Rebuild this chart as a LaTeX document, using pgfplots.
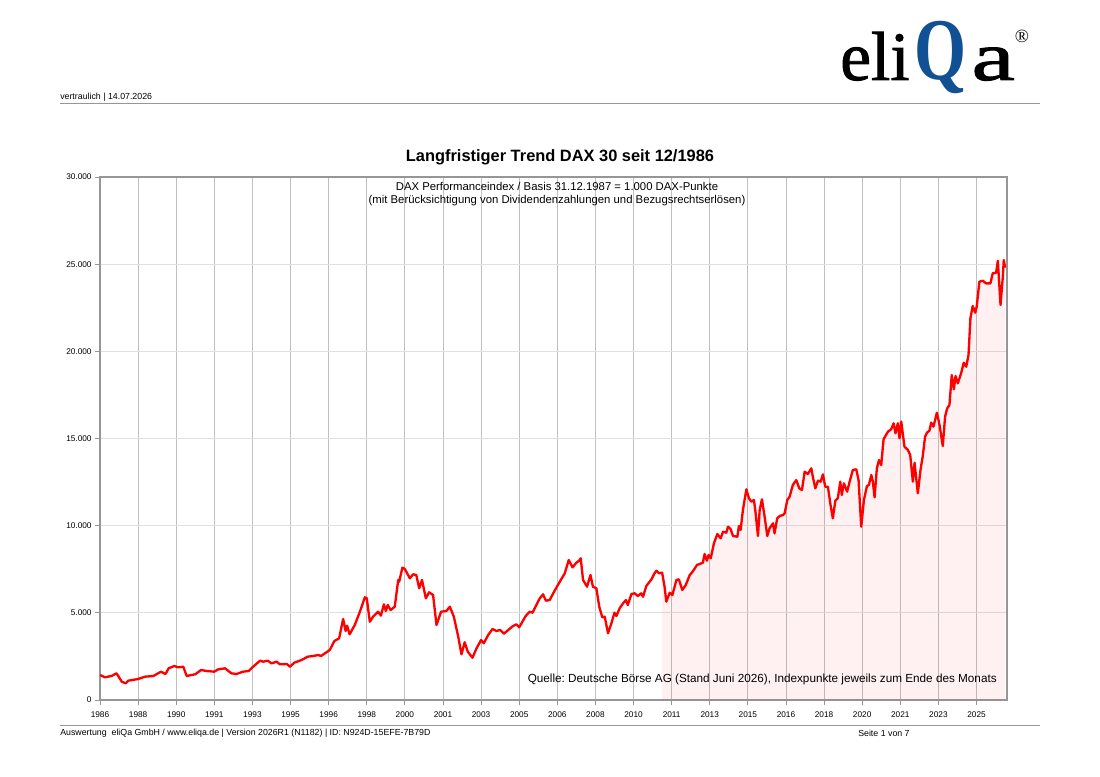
\documentclass[border=0pt]{standalone}
\usepackage{pgfplots}
\pgfplotsset{compat=1.18}
\usepackage{pgfplotstable}
\usepackage{graphicx}
\usepackage{fontspec}
\setmainfont{Liberation Sans}
\newfontfamily\logofont{Liberation Serif}
\newfontfamily\logofontmed[FakeBold=1.3]{Liberation Serif}
\definecolor{eliqablue}{RGB}{18,80,148}
\definecolor{gridv}{RGB}{192,192,192}
\definecolor{gridh}{RGB}{224,224,224}
\definecolor{axisgray}{RGB}{150,150,150}
\frenchspacing

\pgfplotstableread{
m v
0 1434
2.6 1302
6 1377
8.7 1530
11.4 1052
13.5 957
14.9 1109
20 1204
23.6 1338
28 1377
32 1625
34.4 1491
36 1817
39 1950
41 1874
43.7 1912
45.5 1377
48 1434
50 1472
53 1721
56 1663
60 1625
62 1759
65.6 1817
69 1530
71.7 1491
75 1625
78 1663
80 1874
84 2256
85.6 2199
88 2256
90 2103
92.7 2199
94.4 2046
98 2066
99.7 1912
102 2142
105.8 2294
109 2485
112 2524
114.5 2581
116 2524
120.6 2868
123 3384
125.5 3539
127.6 4646
128.9 3958
129.7 4262
131 3768
133.7 4302
136.4 5065
139 5891
140 5834
141.6 4491
143.3 4778
146 5065
147.4 4836
149 5489
150 5105
151 5449
152.5 5162
154.7 5352
156.5 6883
157 6786
158.7 7589
160 7514
162.6 6980
164.3 7209
166 7170
167.5 6407
169 6883
171 5834
172.7 6178
174.8 6023
176.6 4302
179 5065
181.8 5105
183.6 5352
185.7 4778
188 3631
189.7 2621
191.4 3310
193 2770
195.5 2426
197.6 2965
200 3442
201.4 3252
203.7 3728
206 4073
208 3958
210 4015
212 3806
216.5 4225
218.5 4342
220 4170
223.4 4818
225.5 5065
227 5008
230.8 5834
232.5 6063
234 5696
236 5736
238.6 6270
241 6729
243.9 7267
246 8030
248 7610
250 7875
251.4 7990
252.3 8128
253.5 6883
255.6 6499
257.4 7170
258.7 6499
260.5 6407
262 5352
263.6 4744
264.9 4778
266.6 3826
268.4 4400
270 5008
271 4818
272.7 5260
274.5 5547
276 5736
277 5449
278.9 6080
280.6 6120
282.3 5966
284 6120
285 5925
286.7 6539
289.4 6923
291 7267
292 7418
293.4 7267
295 7303
296.3 6499
297.2 5640
299 6155
300.4 6023
302.5 6883
303.8 6923
305.6 6310
307.4 6596
309.5 7170
311 7360
313.3 7744
316.4 7875
317.3 8374
318.5 7990
319.4 8317
320.5 8128
322.2 8988
324 9522
325.7 9275
327 9657
328.7 9600
329.6 9944
331 9791
332.2 9407
334.5 9369
335.3 9980
336.2 9752
337.4 10898
339.2 12085
340.6 11569
341.8 11378
343.2 11472
344 10801
345.3 9407
346.2 10898
347.4 11512
348.8 10514
350.2 9407
351.4 9848
353.2 10134
354 9560
355.4 10419
356.7 10553
358.4 10610
359.3 10707
360.7 11472
361.9 11661
363.6 12332
365.4 12619
367 12142
368.4 12046
369.8 13096
371.5 12963
373.3 13290
374.1 12810
375.4 12142
376.8 12581
378.2 12524
379.4 12944
380.6 12236
382 12236
383.4 11185
384.6 10419
385.9 11434
387.2 11569
388.5 12524
389.3 11760
390.4 12428
392.1 11951
393.4 12524
395.1 13195
396.9 13233
398.1 12619
399.5 9944
400.9 11472
402.5 12275
403.5 12332
404.8 12906
405.6 12524
406.5 11626
407.7 13290
408.8 13766
410 13480
411.2 14955
413.5 15390
415.2 15528
416.5 15872
417.5 15298
418.7 15872
419.6 15011
420.5 15968
422.2 14532
424 14340
425.2 14053
426.6 12524
427.5 13612
429.2 11856
430.6 13195
431.8 14000
433 15105
434 15335
435.3 15449
436.2 15910
437.4 15680
439.2 16480
440.6 15780
442.3 14570
443.5 16250
444.6 16730
445.8 16920
447 18640
448.1 17820
449 18585
450.2 18163
452 18776
453.3 19350
454.6 19120
455.8 19790
456.8 21895
458 22600
459.3 22216
460.1 22560
461.5 23994
463.3 24052
465 23900
467.3 23900
468.5 24473
470.3 24510
471.2 25199
472.6 22657
473.8 24280
474.3 25238
475 24800
}\daxdata

\begin{document}
\begin{tikzpicture}
\path[fill=white, use as bounding box] (0,0) rectangle (825pt,-582.75pt);
% header
\node[anchor=west, inner sep=0, font=\fontsize{6.6}{7}\selectfont] at (45pt,-72.75pt) {vertraulich | 14.07.2026};
\draw[axisgray, line width=0.6pt] (45pt,-77.25pt) -- (780pt,-77.25pt);
% logo
\node[anchor=base west, inner sep=0, font=\logofontmed\fontsize{52}{54}\selectfont] at (630pt,-60pt) {eli};
\node[anchor=base west, inner sep=0, font=\logofont\bfseries\fontsize{66}{68}\selectfont, text=eliqablue] at (685.5pt,-60pt) {\scalebox{0.76}[1]{Q}};
\node[anchor=base west, inner sep=0, font=\logofontmed\fontsize{52}{54}\selectfont] at (728.5pt,-60pt) {\scalebox{1.4}[1]{a}};
\node[anchor=base west, inner sep=0, font=\logofont\fontsize{14}{15}\selectfont] at (761pt,-32.25pt) {\textregistered};
% title
\node[font=\bfseries\fontsize{12.3}{14}\selectfont] at (420pt,-117.75pt) {Langfristiger Trend DAX 30 seit 12/1986};

\begin{axis}[
  at={(75pt,-525pt)}, anchor=south west,
  scale only axis, width=680.25pt, height=392.25pt,
  xmin=0, xmax=476, ymin=0, ymax=30000,
  xtick={0,20,...,460},
  xticklabels={1986,1988,1990,1991,1993,1995,1996,1998,2000,2001,2003,2005,2006,2008,2010,2011,2013,2015,2016,2018,2020,2021,2023,2025},
  ytick={0,5000,...,30000},
  scaled y ticks=false,
  /pgf/number format/.cd, 1000 sep={.}, assume math mode=true, /pgfplots/.cd,
  tick pos=left, tick align=outside, major tick length=4pt,
  tick style={draw=axisgray, line width=0.6pt},
  xmajorgrids, ymajorgrids,
  x grid style={draw=gridv, line width=0.6pt},
  y grid style={draw=gridh, line width=0.6pt},
  axis line style={draw=axisgray, line width=0.9pt},
  ticklabel style={font=\fontsize{6.2}{7}\selectfont},
  yticklabel style={xshift=1.2pt},
  xticklabel style={yshift=-1pt},
]
\addplot[draw=none, fill=red, fill opacity=0.055, restrict x to domain=294.7:480] table[x=m, y=v] {\daxdata} \closedcycle;
\addplot[red, line width=1.75pt, line join=round, mark=none] table[x=m, y=v] {\daxdata};
\end{axis}

\node[font=\fontsize{8.5}{10}\selectfont, align=center] at (417.75pt,-145.5pt) {DAX Performanceindex / Basis 31.12.1987 = 1.000 DAX-Punkte\\[-0.5pt](mit Berücksichtigung von Dividendenzahlungen und Bezugsrechtserlösen)};
\node[anchor=east, inner sep=0, font=\fontsize{8.8}{10}\selectfont] at (747.75pt,-509.25pt) {Quelle: Deutsche Börse AG (Stand Juni 2026), Indexpunkte jeweils zum Ende des Monats};
% footer
\draw[axisgray, line width=0.6pt] (45pt,-543.75pt) -- (780pt,-543.75pt);
\node[anchor=west, inner sep=0, font=\fontsize{6.6}{7}\selectfont] at (45pt,-549.75pt) {Auswertung\ \ eliQa GmbH / www.eliqa.de | Version 2026R1 (N1182) | ID: N924D-15EFE-7B79D};
\node[anchor=west, inner sep=0, font=\fontsize{6.6}{7}\selectfont] at (643.5pt,-549.75pt) {Seite 1 von 7};
\end{tikzpicture}
\end{document}
